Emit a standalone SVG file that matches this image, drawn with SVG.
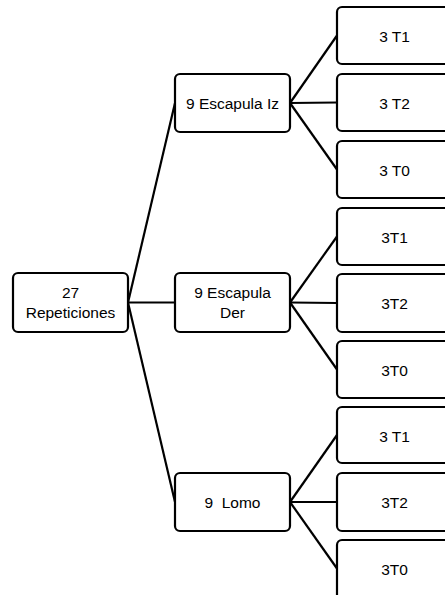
<svg xmlns="http://www.w3.org/2000/svg" width="445" height="595" viewBox="0 0 445 595">
<style>
.box{fill:#fff;stroke:#000;stroke-width:2.2}
.t{font-family:"Liberation Sans",Arial,sans-serif;font-size:15.5px;fill:#000;text-anchor:middle}
.c{stroke:#000;stroke-width:2.2;fill:none}
</style>
<rect width="445" height="595" fill="#fff"/>
<g id="connectors">
<line class="c" x1="128" y1="302.5" x2="175" y2="103"/>
<line class="c" x1="128" y1="302.5" x2="175" y2="302.5"/>
<line class="c" x1="128" y1="302.5" x2="175" y2="502"/>
<line class="c" x1="290" y1="103" x2="337" y2="35.5"/>
<line class="c" x1="290" y1="103" x2="337" y2="102.5"/>
<line class="c" x1="290" y1="103" x2="337" y2="169.5"/>
<line class="c" x1="290" y1="302.5" x2="337" y2="236.5"/>
<line class="c" x1="290" y1="302.5" x2="337" y2="303"/>
<line class="c" x1="290" y1="302.5" x2="337" y2="369.5"/>
<line class="c" x1="290" y1="502" x2="337" y2="435"/>
<line class="c" x1="290" y1="502" x2="337" y2="502"/>
<line class="c" x1="290" y1="502" x2="337" y2="568.5"/>
</g>
<g id="root">
<rect class="box" x="13" y="273" width="115" height="59" rx="5"/>
<text class="t" x="70.5" y="298">27</text>
<text class="t" x="70.5" y="318">Repeticiones</text>
</g>
<g id="iz">
<rect class="box" x="175" y="74" width="115" height="58" rx="5"/>
<text class="t" x="232.5" y="108.5">9 Escapula Iz</text>
</g>
<g id="der">
<rect class="box" x="175" y="273" width="115" height="59" rx="5"/>
<text class="t" x="232.5" y="298">9 Escapula</text>
<text class="t" x="232.5" y="318">Der</text>
</g>
<g id="lomo">
<rect class="box" x="175" y="473" width="115" height="58" rx="5"/>
<text class="t" x="232.5" y="507.5" xml:space="preserve">9  Lomo</text>
</g>
<g id="iz-t1"><rect class="box" x="337" y="7" width="115" height="57" rx="5"/><text class="t" x="394.5" y="41.5">3 T1</text></g>
<g id="iz-t2"><rect class="box" x="337" y="74" width="115" height="57" rx="5"/><text class="t" x="394.5" y="108.5">3 T2</text></g>
<g id="iz-t0"><rect class="box" x="337" y="141" width="115" height="57" rx="5"/><text class="t" x="394.5" y="175.5">3 T0</text></g>
<g id="der-t1"><rect class="box" x="337" y="208" width="115" height="57" rx="5"/><text class="t" x="394.5" y="242.5">3T1</text></g>
<g id="der-t2"><rect class="box" x="337" y="274" width="115" height="58" rx="5"/><text class="t" x="394.5" y="308.5">3T2</text></g>
<g id="der-t0"><rect class="box" x="337" y="341" width="115" height="57" rx="5"/><text class="t" x="394.5" y="375.5">3T0</text></g>
<g id="lomo-t1"><rect class="box" x="337" y="407" width="115" height="56" rx="5"/><text class="t" x="394.5" y="441.5">3 T1</text></g>
<g id="lomo-t2"><rect class="box" x="337" y="473" width="115" height="58" rx="5"/><text class="t" x="394.5" y="507.5">3T2</text></g>
<g id="lomo-t0"><rect class="box" x="337" y="540" width="115" height="60" rx="5"/><text class="t" x="394.5" y="574.5">3T0</text></g>
</svg>
